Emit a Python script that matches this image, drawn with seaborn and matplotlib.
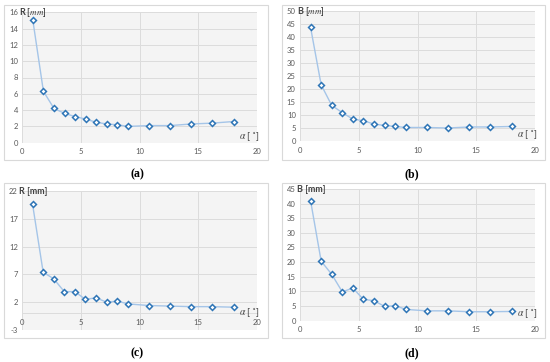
import matplotlib
matplotlib.use("Agg")
import matplotlib.pyplot as plt
import seaborn as sns
import numpy as np
from matplotlib.patches import Rectangle

# ---- data ----
alpha = [0.9, 1.8, 2.7, 3.6, 4.5, 5.4, 6.3, 7.2, 8.1, 9.0, 10.8, 12.6, 14.4, 16.2, 18.0]
R_a = [15.0, 6.3, 4.2, 3.6, 3.2, 2.9, 2.5, 2.3, 2.2, 2.0, 2.1, 2.1, 2.3, 2.4, 2.6]
B_b = [43.7, 21.6, 13.7, 10.9, 8.4, 7.8, 6.5, 6.0, 5.6, 5.2, 5.2, 5.0, 5.4, 5.4, 5.6]
R_c = [19.6, 7.4, 6.2, 3.9, 3.9, 2.5, 2.8, 2.0, 2.2, 1.7, 1.4, 1.3, 1.2, 1.2, 1.1]
B_d = [41.0, 20.3, 15.8, 9.8, 11.1, 7.2, 6.8, 4.8, 5.1, 3.8, 3.3, 3.3, 3.0, 3.0, 3.1]

x_ticks = [0, 5, 10, 15, 20]
yticks_a = [0, 2, 4, 6, 8, 10, 12, 14, 16]
yticks_b = [0, 5, 10, 15, 20, 25, 30, 35, 40, 45, 50]
yticks_c = [-3, 2, 7, 12, 17, 22]
yticks_d = [0, 5, 10, 15, 20, 25, 30, 35, 40, 45]

titles = [r"R [$mm$]", r"B [$mm$]", "R [mm]", "B [mm]"]
captions = ["a", "b", "c", "d"]

sns.set_theme(style="white")
plt.rcParams["font.family"] = ["Lato", "DejaVu Sans"]
plt.rcParams["mathtext.fontset"] = "stix"

W, H = 550, 362
fig = plt.figure(figsize=(W / 100, H / 100), dpi=100)
fig.patch.set_facecolor("white")

def fx(px):
    return px / W

def fy(py):
    return 1 - py / H

# panel boxes (pixel coords: left, top, right, bottom)
boxes = [(4, 5, 268, 160), (282, 5, 545, 160), (4, 183, 268, 338), (282, 183, 545, 338)]
for (l, t, r, b) in boxes:
    fig.patches.append(Rectangle((fx(l), fy(b)), fx(r - l), (b - t) / H,
                                 transform=fig.transFigure, facecolor="white",
                                 edgecolor="#D9D9D9", lw=0.8, zorder=-5))

# axes plot areas (pixel coords: left, top, right, bottom)
areas = [(22.3, 12.3, 257, 142.7), (300, 11, 535, 141), (22, 191, 257, 330), (300, 189, 535, 320.5)]
ydata = [R_a, B_b, R_c, B_d]
yticks = [yticks_a, yticks_b, yticks_c, yticks_d]
caption_pos = [(137, 174), (412, 174), (137, 353), (412, 353)]

line_col = "#A5C5E8"
mk_col = "#2E75B6"
tick_col = "#595959"
title_col = "#404040"

for i in range(4):
    l, t, r, b = areas[i]
    ax = fig.add_axes([fx(l), fy(b), (r - l) / W, (b - t) / H])
    ax.set_zorder(2)
    ax.set_facecolor("#F4F4F4")
    sns.lineplot(x=alpha, y=ydata[i], ax=ax, color=line_col, lw=1.0,
                 marker="D", markersize=3.0, markerfacecolor="white",
                 markeredgecolor=mk_col, markeredgewidth=1.1, zorder=3)
    yt = yticks[i]
    ax.set_xlim(0, 20)
    ax.set_ylim(yt[0], yt[-1])
    ax.set_xticks(x_ticks)
    ax.set_yticks(yt)
    ax.set_xticklabels([str(v) for v in x_ticks])
    ax.set_yticklabels([str(v) for v in yt])
    ax.grid(True, color="#DCDCDC", lw=0.7)
    ax.set_axisbelow(True)
    for s in ax.spines.values():
        s.set_visible(False)
    if yt[0] < 0:
        ax.spines["bottom"].set_position(("data", 0))
        ax.spines["bottom"].set_visible(True)
        ax.spines["bottom"].set_color("#DCDCDC")
        ax.spines["bottom"].set_linewidth(0.7)
    ax.tick_params(axis="both", length=0, labelsize=5.5, labelcolor=tick_col)
    ax.tick_params(axis="y", pad=3)
    ax.tick_params(axis="x", pad=4)
    ax.set_xlabel("")
    ax.set_ylabel("")
    # axis titles
    fig.text(fx(l - 3), fy(t), titles[i], fontsize=6.5, color=title_col,
             fontweight="bold", ha="left", va="center", zorder=5)
    if yt[0] < 0:
        zero_py = b - (0 - yt[0]) / (yt[-1] - yt[0]) * (b - t)
        fig.text(fx(r + 3), fy(zero_py - 1), r"$\alpha$ [ $^{\circ}$]", fontsize=7,
                 color=title_col, ha="right", va="center", zorder=5)
    else:
        fig.text(fx(r + 3), fy(b - 6.5), r"$\alpha$ [ $^{\circ}$]", fontsize=7, color=title_col,
                 ha="right", va="center", zorder=5)
    cx, cy = caption_pos[i]
    fig.text(fx(cx), fy(cy), "(" + captions[i] + ")", fontsize=8.5,
             family=["Liberation Serif"], fontweight="bold", color="black",
             ha="center", va="center")

fig.savefig("out.png", dpi=100, facecolor="white")
